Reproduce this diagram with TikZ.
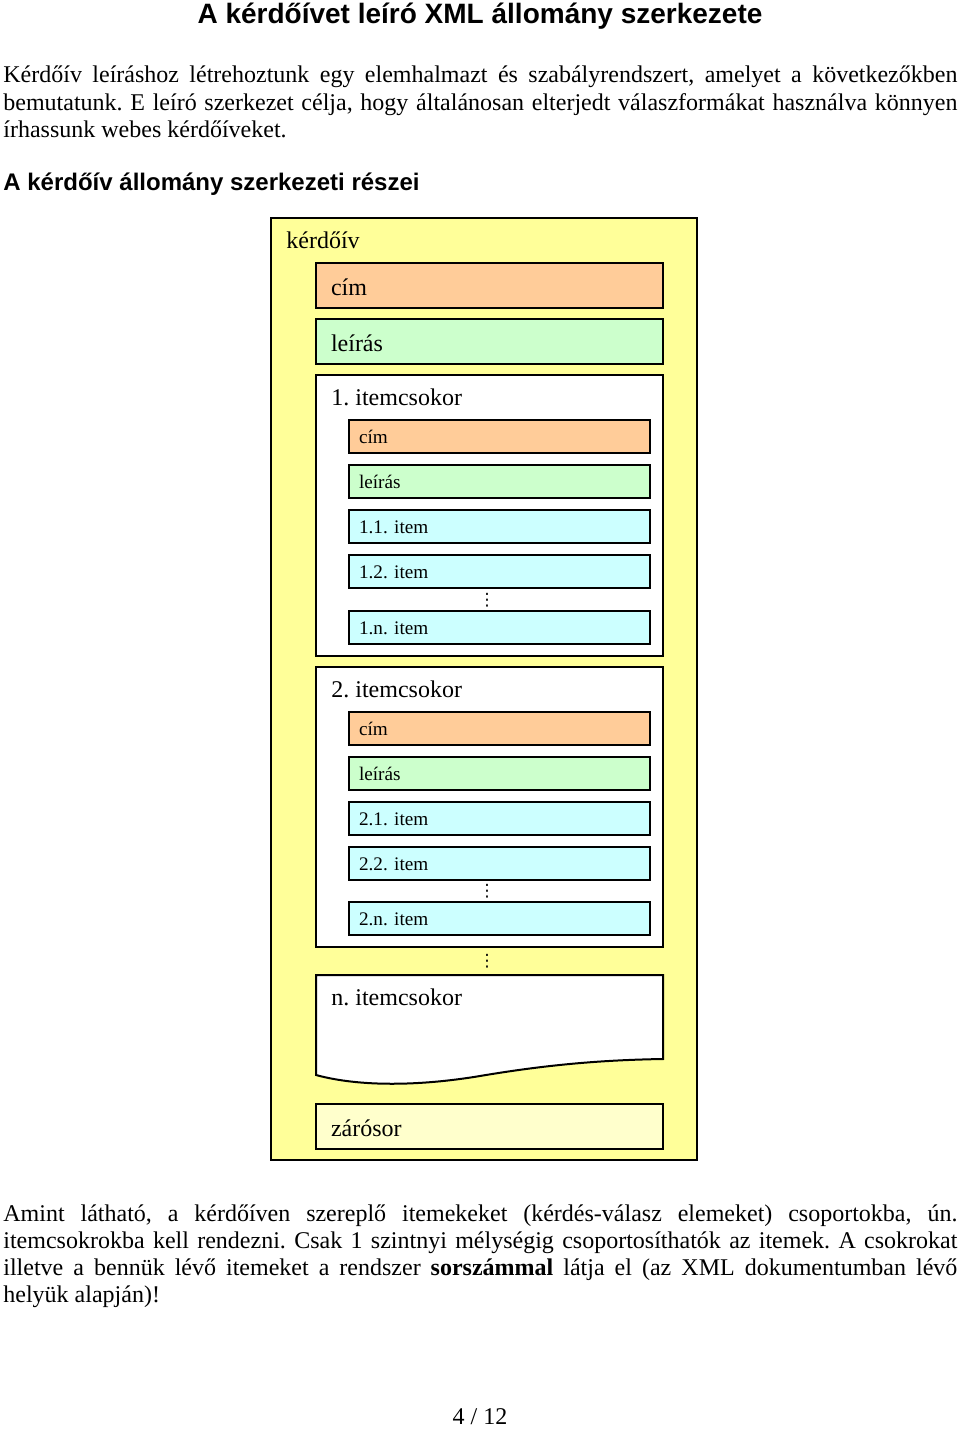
\documentclass[tikz,border=0pt]{standalone}
\usepackage{fontspec}
\setmainfont{Liberation Serif}
\setsansfont{Liberation Sans}
\newfontfamily\jelek{DejaVu Sans}
\usetikzlibrary{positioning}
\frenchspacing
\definecolor{lapsarga}{HTML}{FFFF99}
\definecolor{barack}{HTML}{FFCC99}
\definecolor{zold}{HTML}{CCFFCC}
\definecolor{kek}{HTML}{CCFFFF}
\definecolor{halvany}{HTML}{FFFFCC}
\begin{document}
\begin{tikzpicture}[x=0.5pt,y=-0.5pt,
  szoveg/.style={inner sep=0pt, text width=477pt, align=justify, anchor=base west,
    font=\fontsize{12}{13.6}\selectfont},
  nagy/.style={draw, line width=1pt, outer sep=0pt, minimum width=173.5pt, minimum height=22.5pt,
    text width=158.5pt, inner xsep=7.5pt, text height=11pt, text depth=1.5pt,
    font=\fontsize{12}{14}\selectfont},
  kicsi/.style={draw, line width=0.8pt, outer sep=0pt, minimum width=150.5pt, minimum height=16.5pt,
    text width=140.5pt, inner xsep=5pt, text height=8pt, text depth=1.5pt, fill=kek,
    font=\fontsize{9.6}{11}\selectfont},
  csokor/.style={draw, line width=1pt, fill=white},
  felirat/.style={anchor=base west, inner sep=0pt, font=\fontsize{12}{14}\selectfont},
  pontok/.style={inner sep=0pt, font=\jelek\fontsize{8.5}{8.5}\selectfont}]
  \useasboundingbox (0,0) rectangle (960,1429);

  \node[anchor=base, inner sep=0pt, font=\sffamily\bfseries\fontsize{14}{16}\selectfont] (cimsor) at (480,24)
    {A kérdőívet leíró XML állomány szerkezete};
  \node[szoveg] (bevezeto) at (3,83)
    {Kérdőív leíráshoz létrehoztunk egy elemhalmazt és szabályrendszert, amelyet a következőkben\linebreak
     bemutatunk. E leíró szerkezet célja, hogy általánosan elterjedt válaszformákat használva könnyen\linebreak
     írhassunk webes kérdőíveket.};
  \node[anchor=base west, inner sep=0pt, font=\sffamily\bfseries\fontsize{12}{14}\selectfont] (alcim) at (3,190)
    {A kérdőív állomány szerkezeti részei};

  \draw[line width=1pt, fill=lapsarga] (271,218) rectangle (697,1160);
  \node[felirat] (kerdoiv) at (286,248) {kérdőív};
  \node[nagy, fill=barack, anchor=north west] (cim) at (316,263) {cím};
  \node[nagy, fill=zold, below=5.5pt of cim] (leiras) {leírás};

  \draw[csokor] (316,375) rectangle (663,656);
  \node[felirat] (csokor1) at (331,405) {1. itemcsokor};
  \node[kicsi, fill=barack, anchor=north west] (cim1) at (349,420) {cím};
  \node[kicsi, fill=zold, below=6pt of cim1] (leiras1) {leírás};
  \node[kicsi, below=6pt of leiras1] (item11) {1.1. item};
  \node[kicsi, below=6pt of item11] (item12) {1.2. item};
  \node[pontok] (pont1) at (487,600) {⋮};
  \node[kicsi, below=11.5pt of item12] (item1n) {1.n. item};

  \draw[csokor] (316,667) rectangle (663,947);
  \node[felirat] (csokor2) at (331,697) {2. itemcsokor};
  \node[kicsi, fill=barack, anchor=north west] (cim2) at (349,712) {cím};
  \node[kicsi, fill=zold, below=6pt of cim2] (leiras2) {leírás};
  \node[kicsi, below=6pt of leiras2] (item21) {2.1. item};
  \node[kicsi, below=6pt of item21] (item22) {2.2. item};
  \node[pontok] (pont2) at (487,891) {⋮};
  \node[kicsi, below=11pt of item22] (item2n) {2.n. item};

  \node[pontok] (pont3) at (487,961) {⋮};
  \draw[csokor] (316,975) -- (316,1075) .. controls (360,1087) and (420,1086) .. (480,1076)
    .. controls (545,1065) and (600,1060) .. (663,1059) -- (663,975) -- cycle;
  \node[felirat] (csokorn) at (331,1005) {n. itemcsokor};
  \node[nagy, fill=halvany, anchor=north west] (zarosor) at (316,1104) {zárósor};

  \node[szoveg] (magyarazat) at (3,1221)
    {Amint látható, a kérdőíven szereplő itemekeket (kérdés-válasz elemeket) csoportokba, ún.\linebreak
     itemcsokrokba kell rendezni. Csak 1 szintnyi mélységig csoportosíthatók az itemek. A csokrokat\linebreak
     illetve a bennük lévő itemeket a rendszer \textbf{sorszámmal} látja el (az XML dokumentumban lévő\linebreak
     helyük alapján)!};
  \node[anchor=base, inner sep=0pt, font=\fontsize{12}{14}\selectfont] (oldalszam) at (480,1424) {4 / 12};
\end{tikzpicture}
\end{document}
